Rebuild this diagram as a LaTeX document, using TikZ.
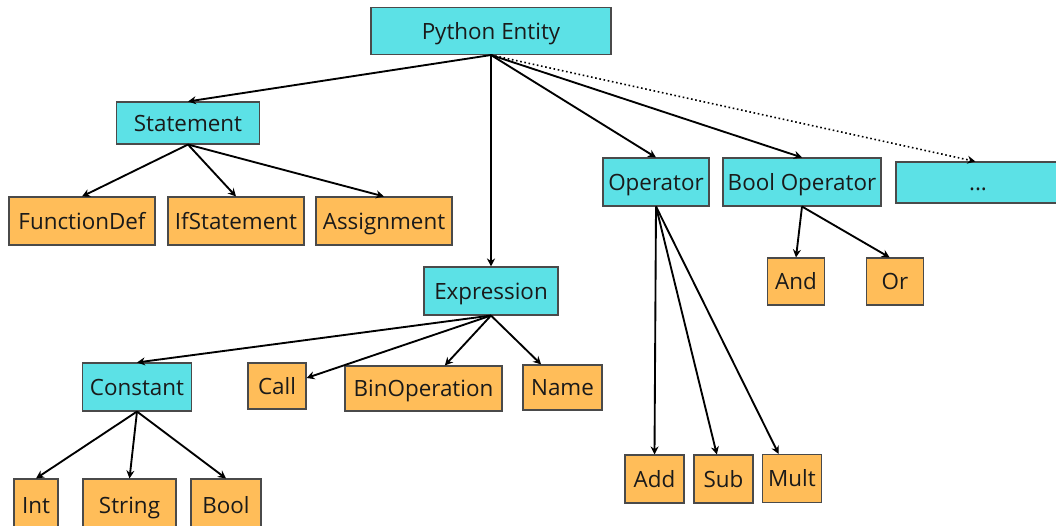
\documentclass[tikz,border=0pt]{standalone}
\usepackage{fontspec}
\setmainfont{Open Sans}
\usetikzlibrary{arrows.meta}
\definecolor{cyanbox}{HTML}{5CE1E6}
\definecolor{orangebox}{HTML}{FFBD59}
\definecolor{boxline}{HTML}{4A4A4A}
\definecolor{txt}{HTML}{1A1A1A}
\tikzset{
  base/.style={draw=boxline, line width=0.8pt, inner sep=0pt, text=txt,
    font=\fontsize{16.8}{19}\selectfont, text height=13pt, text depth=1pt},
  cbox/.style={base, fill=cyanbox},
  obox/.style={base, fill=orangebox},
  sz/.style 2 args={minimum width=#1*0.75pt, minimum height=#2*0.75pt},
  arr/.style={line width=1.4pt, -{Stealth[length=6pt,width=6pt]}},
  dotarr/.style={line width=1.2pt, dotted, -{Stealth[length=6pt,width=6pt]}}
}
\begin{document}
\begin{tikzpicture}[x=0.75pt,y=-0.75pt]
\useasboundingbox (0,0) rectangle (1056,525);
\clip (0,0) rectangle (1056,525);
% nodes
\node[cbox, sz={240}{47}] (pe) at (491,31) {Python Entity};
\node[cbox, sz={143}{42}] (st) at (188,123) {Statement};
\node[obox, sz={146}{48}] (fd) at (82,221) {FunctionDef};
\node[obox, sz={136}{48}] (ifs) at (236,221) {IfStatement};
\node[obox, sz={136}{48}] (asg) at (384,221) {Assignment};
\node[cbox, sz={134}{48}] (ex) at (491,291) {Expression};
\node[cbox, sz={106}{48}] (op) at (656,182) {Operator};
\node[cbox, sz={158}{48}] (bo) at (802,182) {Bool Operator};
\node[cbox, sz={164}{41}] (dots) at (978,182.5) {...};
\node[obox, sz={57}{47}] (and) at (796,281.5) {And};
\node[obox, sz={57}{47}] (or) at (895,281.5) {Or};
\node[cbox, sz={109}{48}] (con) at (137,387) {Constant};
\node[obox, sz={58}{46}] (call) at (277,386) {Call};
\node[obox, sz={157}{45}] (bin) at (423.5,388.5) {BinOperation};
\node[obox, sz={79}{45}] (name) at (562.5,387.5) {Name};
\node[obox, sz={44}{52}] (int) at (36,505) {Int};
\node[obox, sz={93}{52}] (str) at (129.5,505) {String};
\node[obox, sz={70}{52}] (bool) at (226,505) {Bool};
\node[obox, sz={59}{48}] (add) at (654.5,479) {Add};
\node[obox, sz={59}{48}] (sub) at (723.5,479) {Sub};
\node[obox, sz={59}{48}] (mult) at (792,478.5) {Mult};
% connectors
\draw[arr] (pe.south) -- (st.north);
\draw[arr] (pe.south) -- (ex.north);
\draw[arr] (pe.south) -- (op.north);
\draw[arr] (pe.south) -- (bo.north);
\draw[dotarr] (pe.south) -- ([xshift=-2pt]dots.north);
\draw[arr] (st.south) -- (fd.north);
\draw[arr] (st.south) -- (ifs.north);
\draw[arr] (st.south) -- (asg.north);
\draw[arr] (ex.south) -- (con.north);
\draw[arr] (ex.south) -- ([yshift=6pt]call.east);
\draw[arr] (ex.south) -- ([xshift=16pt]bin.north);
\draw[arr] (ex.south) -- ([xshift=-16pt]name.north);
\draw[arr] (con.south) -- (int.north);
\draw[arr] (con.south) -- (str.north);
\draw[arr] (con.south) -- (bool.north);
\draw[arr] (op.south) -- (add.north);
\draw[arr] (op.south) -- ([xshift=-5pt]sub.north);
\draw[arr] (op.south) -- ([xshift=-10pt]mult.north);
\draw[arr] (bo.south) -- (and.north);
\draw[arr] (bo.south) -- ([xshift=-4pt]or.north);
\end{tikzpicture}
\end{document}
